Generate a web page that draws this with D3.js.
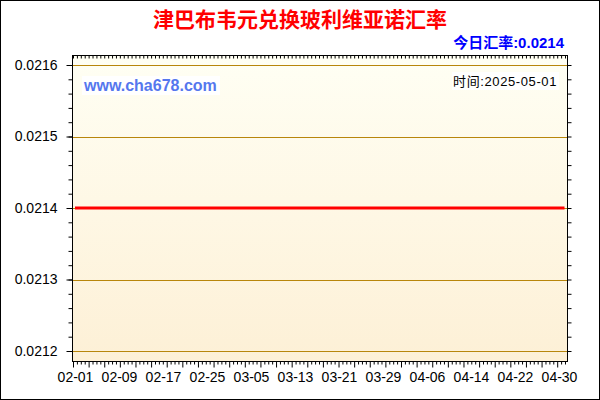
<!DOCTYPE html>
<html>
<head>
<meta charset="utf-8">
<script src="https://cdn.jsdelivr.net/npm/d3@7"></script>
<style>
body { margin: 0; background: #fff; }
svg { display: block; }
</style>
</head>
<body>
<script>
// data
let title = '津巴布韦元兑换玻利维亚诺汇率';
let todayLabel = '今日汇率:';
let todayRate = '0.0214';
let timeLabel = '时间:2025-05-01';
let site = 'www.cha678.com';

let dates = ['2025-02-01', '2025-02-09', '2025-02-17', '2025-02-25', '2025-03-05', '2025-03-13',
  '2025-03-21', '2025-03-29', '2025-04-06', '2025-04-14', '2025-04-22', '2025-04-30', '2025-05-01'];
let rates = [0.0214, 0.0214, 0.0214, 0.0214, 0.0214, 0.0214,
  0.0214, 0.0214, 0.0214, 0.0214, 0.0214, 0.0214, 0.0214];
let xTickLabels = ['02-01', '02-09', '02-17', '02-25', '03-05', '03-13',
  '03-21', '03-29', '04-06', '04-14', '04-22', '04-30'];
let yTicks = [0.0212, 0.0213, 0.0214, 0.0215, 0.0216];

let W = 600, H = 400;
let box = {left: 72, right: 568, top: 55, bottom: 362};
let font = '"Liberation Sans", Arial, "Noto Sans CJK SC", sans-serif';
let parse = d3.timeParse('%Y-%m-%d');

let svg = d3.select('body').append('svg')
  .attr('width', W)
  .attr('height', H);

let defs = svg.append('defs');
let grad = defs.append('linearGradient')
  .attr('id', 'bg')
  .attr('x1', 0).attr('y1', 0).attr('x2', 0).attr('y2', 1);
grad.append('stop').attr('offset', '0%').attr('stop-color', '#fffff4');
grad.append('stop').attr('offset', '100%').attr('stop-color', '#fdf0d6');

// outer frame
svg.append('rect')
  .attr('x', 0.5).attr('y', 0.5)
  .attr('width', W - 1).attr('height', H - 1)
  .attr('fill', '#fff')
  .attr('stroke', '#000');

let x = d3.scaleTime()
  .domain([parse(dates[0]), parse(dates[dates.length - 1])])
  .range([75, 564.5]);
let y = d3.scaleLinear()
  .domain([0.0212, 0.0216])
  .range([351, 65]);

// plot background
svg.append('rect')
  .attr('x', box.left).attr('y', box.top)
  .attr('width', box.right - box.left)
  .attr('height', box.bottom - box.top)
  .attr('fill', 'url(#bg)');

// grid lines
svg.append('g')
  .selectAll('line')
  .data(yTicks)
  .join('line')
  .attr('x1', box.left).attr('x2', box.right)
  .attr('y1', d => Math.round(y(d)) + 0.5)
  .attr('y2', d => Math.round(y(d)) + 0.5)
  .attr('stroke', '#b8860b')
  .attr('stroke-width', 1);

// watermark and date stamp
svg.append('rect')
  .attr('x', 82).attr('y', 76)
  .attr('width', 138).attr('height', 19)
  .attr('fill', '#fff');
svg.append('text')
  .attr('x', 84).attr('y', 91)
  .attr('font-family', font)
  .attr('font-size', 16)
  .attr('font-weight', 'bold')
  .attr('fill', '#5577ee')
  .text(site);

svg.append('rect')
  .attr('x', 452).attr('y', 72)
  .attr('width', 107).attr('height', 18)
  .attr('fill', '#fff');
svg.append('text')
  .attr('x', 557).attr('y', 86)
  .attr('text-anchor', 'end')
  .attr('font-family', font)
  .attr('font-size', 13)
  .attr('letter-spacing', 0.6)
  .attr('fill', '#000')
  .text(timeLabel);

// rate line
let line = d3.line()
  .x((d, i) => x(parse(dates[i])))
  .y(d => y(d));

svg.append('path')
  .attr('d', line(rates))
  .attr('fill', 'none')
  .attr('stroke', '#ff0000')
  .attr('stroke-width', 3);

// plot border
svg.append('rect')
  .attr('x', box.left + 0.5).attr('y', box.top + 0.5)
  .attr('width', box.right - box.left - 1)
  .attr('height', box.bottom - box.top - 1)
  .attr('fill', 'none')
  .attr('stroke', '#000');

// y axis ticks
let yMinor = d3.range(0, 21).map(i => 0.0212 + i * 0.00002);

svg.append('g')
  .attr('transform', 'translate(' + (box.left + 0.5) + ',0)')
  .call(d3.axisLeft(y).tickValues(yMinor).tickSize(4).tickFormat(''))
  .call(g => g.select('.domain').remove());

svg.append('g')
  .attr('class', 'axis')
  .attr('transform', 'translate(' + (box.left + 0.5) + ',0)')
  .call(d3.axisLeft(y).tickValues(yTicks).tickSize(6).tickPadding(9).tickFormat(d3.format('.4f')))
  .call(g => g.select('.domain').remove());

svg.append('g')
  .attr('transform', 'translate(' + (box.right - 0.5) + ',0)')
  .call(d3.axisRight(y).tickValues(yMinor).tickSize(4).tickFormat(''))
  .call(g => g.select('.domain').remove());

// x axis ticks
let nTicks = 126;
let tickPos = d3.scaleLinear().domain([0, nTicks]).range([73, 565]);

svg.append('g')
  .attr('transform', 'translate(0,' + (box.bottom - 0.5) + ')')
  .call(d3.axisBottom(tickPos).tickValues(d3.range(0, nTicks + 1)).tickSize(3).tickFormat(''))
  .call(g => g.select('.domain').remove())
  .call(g => g.selectAll('.tick line').attr('y2', (d) => d % 4 === 0 ? 6 : 3));

svg.append('g')
  .attr('transform', 'translate(0,' + (box.top + 0.5) + ')')
  .call(d3.axisBottom(tickPos).tickValues(d3.range(0, nTicks + 1)).tickSize(3).tickFormat(''))
  .call(g => g.select('.domain').remove());

svg.append('g')
  .attr('class', 'axis')
  .attr('transform', 'translate(0,' + (box.bottom - 0.5) + ')')
  .call(d3.axisBottom(x)
    .tickValues(xTickLabels.map(d => parse('2025-' + d)))
    .tickSize(0)
    .tickPadding(11)
    .tickFormat(d3.timeFormat('%m-%d')))
  .call(g => g.select('.domain').remove());

svg.selectAll('.axis text')
  .attr('font-family', font)
  .attr('font-size', 14)
  .attr('fill', '#000');
svg.selectAll('.tick line').attr('stroke', '#000');

// titles
svg.append('text')
  .attr('x', 300).attr('y', 27)
  .attr('text-anchor', 'middle')
  .attr('font-family', font)
  .attr('font-size', 21)
  .attr('font-weight', 'bold')
  .attr('fill', '#ff0000')
  .text(title);

svg.append('text')
  .attr('x', 564).attr('y', 48)
  .attr('text-anchor', 'end')
  .attr('font-family', font)
  .attr('font-size', 15)
  .attr('font-weight', 'bold')
  .attr('fill', '#0000ff')
  .text(todayLabel + todayRate);
</script>
</body>
</html>
